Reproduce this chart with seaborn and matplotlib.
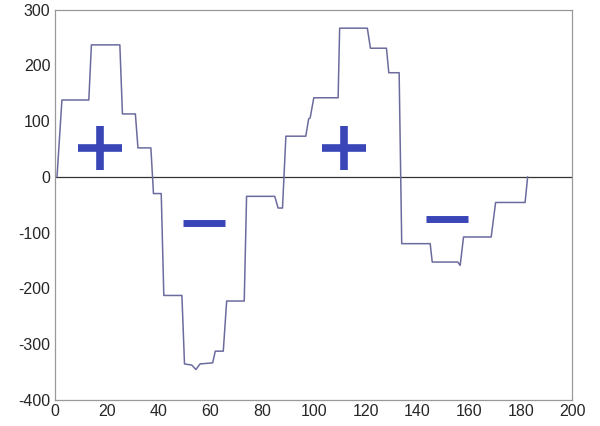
import matplotlib
matplotlib.use("Agg")
import matplotlib.pyplot as plt
import seaborn as sns
import pandas as pd

# Vertices of the signal trace
x_vals = [0.7, 2.6, 13, 14, 25, 26, 31, 32, 37, 38, 41, 42, 49, 50, 52.8, 54.4,
          56, 60.9, 61.9, 65, 66.3, 73.1, 74, 84.9, 86.2, 87.9, 89.2, 96.9,
          98, 98.6, 100, 109.4, 110, 120.7, 121.9, 128.1, 129, 133, 134, 145,
          145.8, 155.7, 156.6, 157.9, 168.6, 170.3, 181.7, 182.7]
y_vals = [0, 138, 138, 237, 237, 113, 113, 52, 52, -30, -30, -213, -213, -336,
          -338, -346, -336, -334, -313, -313, -223, -223, -35, -35, -56, -56,
          73, 73, 104, 106, 142, 142, 267, 267, 231, 231, 187, 187, -120, -120,
          -153, -153, -159, -108, -108, -46, -46, 0]

# sign annotations
plus_x = [17.4, 111.6]
plus_y = [52, 52]
minus_x = [57.5, 151.7]
minus_y = [-83, -76]

df = pd.DataFrame({"x": x_vals, "y": y_vals})

sns.set_style("white")
plt.rcParams["font.family"] = ["Liberation Sans", "DejaVu Sans"]
plt.rcParams["axes.unicode_minus"] = False

fig = plt.figure(figsize=(6, 4.26), dpi=100)
ax = fig.add_axes([0.092, 0.062, 0.862, 0.915])

ax.axhline(0, color="#333333", lw=0.9, zorder=1)
sns.lineplot(data=df, x="x", y="y", sort=False, estimator=None,
             color="#6b6b9e", lw=1.1, ax=ax, zorder=2)

ax.plot(plus_x, plus_y, linestyle="none", marker="+", markersize=31,
        markeredgewidth=5.5, color="#3a46b8", zorder=3)
ax.plot(minus_x, minus_y, linestyle="none", marker="_", markersize=30,
        markeredgewidth=5, color="#3a46b8", zorder=3)

ax.set_xlim(0, 200)
ax.set_ylim(-400, 300)
ax.set_xticks(range(0, 201, 20))
ax.set_yticks(range(-400, 301, 100))
ax.set_xlabel("")
ax.set_ylabel("")
ax.tick_params(direction="in", length=3, labelsize=11.5, color="#888888",
               top=False, right=False)
for s in ax.spines.values():
    s.set_color("#999999")
    s.set_linewidth(0.9)

fig.savefig("out.png", dpi=100)
